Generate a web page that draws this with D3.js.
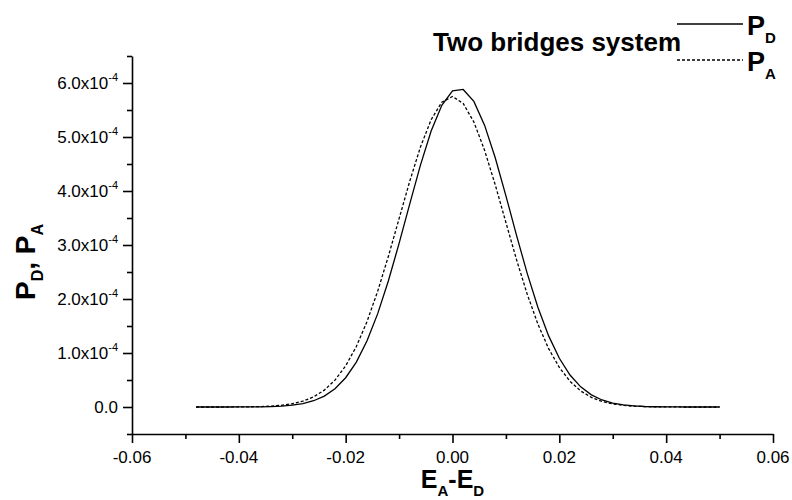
<!DOCTYPE html>
<html>
<head>
<meta charset="utf-8">
<script src="https://cdn.jsdelivr.net/npm/d3@7/dist/d3.min.js"></script>
<style>
  html, body { margin: 0; padding: 0; background: #fff; }
  svg { display: block; font-family: "Liberation Sans", Arial, sans-serif; }
</style>
</head>
<body>
<svg id="chart" width="792" height="500"></svg>
<script>
// ---- data (values of P in units of 1e-4) ----
const xValues = [-0.048,-0.046,-0.044,-0.042,-0.040,-0.038,-0.036,-0.034,-0.032,-0.030,
  -0.028,-0.026,-0.024,-0.022,-0.020,-0.018,-0.016,-0.014,-0.012,-0.010,
  -0.008,-0.006,-0.004,-0.002,0.000,0.002,0.004,0.006,0.008,0.010,
  0.012,0.014,0.016,0.018,0.020,0.022,0.024,0.026,0.028,0.030,
  0.032,0.034,0.036,0.038,0.040,0.042,0.044,0.046,0.048,0.050];
const pD = [0.0000,0.0001,0.0001,0.0003,0.0007,0.0017,0.0038,0.0082,0.0169,0.0334,
  0.0635,0.1158,0.2018,0.338,0.542,0.832,1.225,1.729,2.338,3.029,
  3.763,4.479,5.111,5.587,5.855,5.880,5.659,5.220,4.615,3.910,
  3.174,2.470,1.842,1.317,0.902,0.592,0.373,0.225,0.130,0.0719,
  0.0382,0.0194,0.0094,0.0044,0.0020,0.0008,0.0003,0.0001,0.0000,0.0000];
const pA = [0.0000,0.0001,0.0003,0.0007,0.0017,0.0038,0.0080,0.0163,0.0320,0.0601,
  0.1084,0.1877,0.312,0.498,0.762,1.121,1.583,2.146,2.792,3.488,
  4.182,4.815,5.320,5.645,5.750,5.622,5.277,4.756,4.115,3.417,
  2.724,2.085,1.532,1.081,0.732,0.476,0.297,0.178,0.1025,0.0565,
  0.0300,0.0152,0.0075,0.0035,0.0016,0.0007,0.0003,0.0001,0.0000,0.0000];
const xMajorTicks = [-0.06,-0.04,-0.02,0.00,0.02,0.04,0.06];
const xTickLabels = ["-0.06","-0.04","-0.02","0.00","0.02","0.04","0.06"];
const xMinorTicks = [-0.05,-0.03,-0.01,0.01,0.03,0.05];
const yMajorTicks = [0,1,2,3,4,5,6];
const yTickMantissa = ["0.0","1.0x10","2.0x10","3.0x10","4.0x10","5.0x10","6.0x10"];
const yTickExponent = ["","-4","-4","-4","-4","-4","-4"];
const yMinorTicks = [-0.5,0.5,1.5,2.5,3.5,4.5,5.5,6.5];
const titleText = "Two bridges system";

// ---- layout ----
const svg = d3.select("#chart");
const x = d3.scaleLinear().domain([-0.06, 0.06]).range([132, 773]);
const y = d3.scaleLinear().domain([-0.5, 6.5]).range([434, 56]);

// axes
const gx = svg.append("g").attr("transform", `translate(0,${y(-0.5)})`);
gx.call(d3.axisBottom(x).tickValues(xMajorTicks).tickSize(9).tickSizeOuter(0).tickFormat(""));
const gxm = svg.append("g").attr("transform", `translate(0,${y(-0.5)})`);
gxm.call(d3.axisBottom(x).tickValues(xMinorTicks).tickSize(5).tickSizeOuter(0).tickFormat(""));
gxm.select(".domain").remove();

const gy = svg.append("g").attr("transform", `translate(${x(-0.06)},0)`);
gy.call(d3.axisLeft(y).tickValues(yMajorTicks).tickSize(9).tickSizeOuter(0).tickFormat(""));
const gym = svg.append("g").attr("transform", `translate(${x(-0.06)},0)`);
gym.call(d3.axisLeft(y).tickValues(yMinorTicks).tickSize(5).tickSizeOuter(0).tickFormat(""));
gym.select(".domain").remove();

svg.selectAll(".domain, .tick line").attr("stroke", "#000").attr("stroke-width", 1.6);

// x tick labels
svg.append("g").selectAll("text").data(xMajorTicks).join("text")
  .attr("x", d => x(d)).attr("y", 463)
  .attr("text-anchor", "middle").attr("font-size", 17).attr("fill", "#000")
  .text((d, i) => xTickLabels[i]);

// y tick labels
const yl = svg.append("g").selectAll("text").data(yMajorTicks).join("text")
  .attr("x", 118).attr("y", d => y(d) + 6)
  .attr("text-anchor", "end").attr("font-size", 17).attr("fill", "#000");
yl.append("tspan").text((d, i) => yTickMantissa[i]);
yl.append("tspan").attr("font-size", 11).attr("dy", -8).text((d, i) => yTickExponent[i]);

// curves
const line = d3.line().x((d, i) => x(xValues[i])).y(d => y(d));
svg.append("path").datum(pD).attr("d", line)
  .attr("fill", "none").attr("stroke", "#000").attr("stroke-width", 1.3);
svg.append("path").datum(pA).attr("d", line)
  .attr("fill", "none").attr("stroke", "#000").attr("stroke-width", 1.3)
  .attr("stroke-dasharray", "3,2");

// title
svg.append("text").attr("x", 433).attr("y", 51)
  .attr("font-size", 26).attr("font-weight", "bold").attr("fill", "#000")
  .text(titleText);

// legend
const legend = [
  {label: "P", sub: "D", dash: null, y: 24},
  {label: "P", sub: "A", dash: "3,2", y: 60}
];
legend.forEach(l => {
  svg.append("line").attr("x1", 677).attr("x2", 743).attr("y1", l.y).attr("y2", l.y)
    .attr("stroke", "#000").attr("stroke-width", 1.3)
    .attr("stroke-dasharray", l.dash);
  const t = svg.append("text").attr("x", 747).attr("y", l.y + 11)
    .attr("font-weight", "bold").attr("fill", "#000");
  t.append("tspan").attr("font-size", 27).text(l.label);
  t.append("tspan").attr("font-size", 15).attr("dy", 8).text(l.sub);
});

// x axis title
const xt = svg.append("text").attr("x", 452.5).attr("y", 488)
  .attr("text-anchor", "middle").attr("font-weight", "bold").attr("fill", "#000");
xt.append("tspan").attr("font-size", 25).text("E");
xt.append("tspan").attr("font-size", 15).attr("dy", 8).text("A");
xt.append("tspan").attr("font-size", 25).attr("dy", -8).text("-E");
xt.append("tspan").attr("font-size", 15).attr("dy", 8).text("D");

// y axis title
const yt = svg.append("text").attr("transform", "translate(35,300) rotate(-90)")
  .attr("text-anchor", "start").attr("font-weight", "bold").attr("fill", "#000");
yt.append("tspan").attr("font-size", 28).text("P");
yt.append("tspan").attr("font-size", 16).attr("dy", 8).text("D");
yt.append("tspan").attr("font-size", 28).attr("dy", -8).text(", P");
yt.append("tspan").attr("font-size", 16).attr("dy", 8).text("A");
</script>
</body>
</html>
